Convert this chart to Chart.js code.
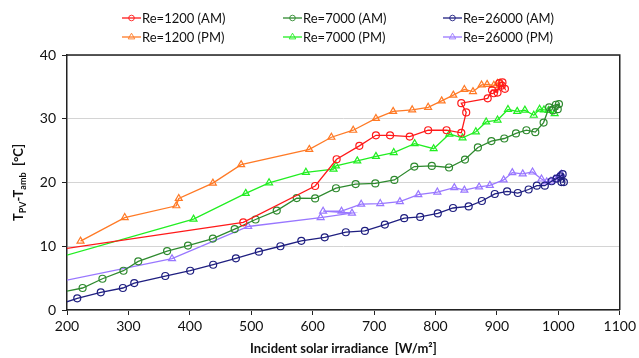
<!DOCTYPE html>
<html lang="en">
    <head>
        <meta charset="UTF-8">
        <title>PV temperature rise vs irradiance</title>
        <script src="https://cdn.jsdelivr.net/npm/chart.js@4/dist/chart.umd.min.js"></script>
        <style>
            body { margin: 0; background: #fff; }
            #chart { display: block; }
        </style>
    </head>
    <body>
        <canvas id="chart" width="639" height="358"></canvas>
        <script>
            // irradiance [W/m2] and temperature rise [°C] for each run
            const re1200amX = [150, 487, 604, 639, 676, 703, 726, 758, 788, 818, 842, 850, 842, 885, 892, 901, 904, 909, 913, 908, 895];
            const re1200amY = [8.96, 13.75, 19.45, 23.65, 25.75, 27.4, 27.4, 27.2, 28.2, 28.2, 27.8, 31.0, 32.45, 33.2, 34.5, 34.1, 35.6, 35.7, 34.7, 35.2, 34.0];

            const re1200pmX = [222, 294, 378, 382, 437.5, 483.5, 594.5, 630.5, 666, 703, 731, 762, 788, 810, 829, 847, 861, 875, 884, 895, 901, 905];
            const re1200pmY = [10.8, 14.5, 16.35, 17.5, 19.9, 22.8, 25.2, 27.1, 28.2, 30.05, 31.15, 31.4, 31.8, 32.8, 33.7, 34.6, 34.25, 35.3, 35.4, 35.25, 35.55, 35.6];

            const re7000amX = [180, 225.4, 257.7, 292, 316, 363, 397, 437.5, 473, 507, 541.5, 574, 604, 638, 670, 702, 733, 765.5, 794, 822, 848, 869, 891, 912, 931, 948, 962.5, 976, 985, 996, 1001, 999, 991];
            const re7000amY = [2.6, 3.45, 4.9, 6.16, 7.63, 9.25, 10.1, 11.2, 12.7, 14.2, 15.6, 17.55, 17.5, 19.1, 19.75, 19.85, 20.4, 22.5, 22.6, 22.35, 23.6, 25.5, 26.5, 26.9, 27.7, 28.2, 27.9, 29.4, 31.8, 32.2, 32.3, 31.5, 31.3];

            const re7000pmX = [150, 406, 491, 529, 589, 634, 638, 672.6, 703, 732, 766, 797, 822.6, 844, 865.7, 882.5, 901, 918, 933, 945.5, 960, 969.5, 976.5, 984, 994];
            const re7000pmY = [7.23, 14.26, 18.3, 19.95, 21.6, 22.1, 22.6, 23.4, 24.1, 24.7, 26.1, 25.3, 27.6, 27.0, 27.95, 29.5, 29.8, 31.45, 31.15, 31.35, 30.55, 31.5, 31.4, 31.3, 30.8];

            const re26000amX = [180, 216.7, 255, 291, 309.5, 360, 400.6, 438, 475, 512.4, 547.5, 581.5, 619.6, 654, 685, 717.5, 749, 775, 803.7, 828.5, 854, 875.5, 896.5, 916.6, 934, 951.6, 965, 978, 989, 997, 1003.5, 1007, 1009, 1005];
            const re26000amY = [0.66, 1.83, 2.77, 3.45, 4.23, 5.33, 6.16, 7.1, 8.1, 9.15, 10.0, 10.85, 11.4, 12.2, 12.4, 13.4, 14.4, 14.6, 15.15, 16.0, 16.25, 17.1, 18.2, 18.6, 18.35, 18.9, 19.5, 19.5, 20.2, 20.6, 20.96, 21.3, 20.06, 20.06];

            const re26000pmX = [150, 371, 495, 613, 664, 617, 647, 679, 710, 742, 772, 803, 830.6, 847, 871, 888.5, 911, 925, 942, 958, 972.6, 981, 988, 994, 1000, 1005];
            const re26000pmY = [3.72, 8.05, 13.1, 14.5, 15.2, 15.5, 15.5, 16.6, 16.7, 17.0, 18.1, 18.5, 19.2, 18.8, 19.3, 19.55, 20.4, 21.55, 21.35, 21.65, 20.55, 20.1, 20.2, 20.5, 20.9, 21.3];

            const xTicks = [200, 300, 400, 500, 600, 700, 800, 900, 1000, 1100];
            const yTicks = [0, 10, 20, 30, 40];

            function pairs(xs, ys) {
                return xs.map(function (x, i) { return { x: x, y: ys[i] }; });
            }

            function series(label, xs, ys, color, style) {
                return {
                    label: label,
                    data: pairs(xs, ys),
                    showLine: true,
                    borderColor: color,
                    backgroundColor: "transparent",
                    borderWidth: 1.3,
                    pointStyle: style,
                    pointRadius: style === "triangle" ? 4 : 3.5,
                    pointBorderWidth: 1.2,
                    pointBorderColor: color,
                    pointBackgroundColor: "transparent"
                };
            }

            const datasets = [
                series("Re=1200 (AM)", re1200amX, re1200amY, "#ff1a1a", "circle"),
                series("Re=7000 (AM)", re7000amX, re7000amY, "#2f8a2f", "circle"),
                series("Re=26000 (AM)", re26000amX, re26000amY, "#1f1f80", "circle"),
                series("Re=1200 (PM)", re1200pmX, re1200pmY, "#ff7a26", "triangle"),
                series("Re=7000 (PM)", re7000pmX, re7000pmY, "#22ee22", "triangle"),
                series("Re=26000 (PM)", re26000pmX, re26000pmY, "#9977ff", "triangle")
            ];

            const FONT = "Lato, 'Open Sans', sans-serif";

            // legend in a 3 x 2 grid, titles and the closing frame
            const decorations = {
                id: "decorations",
                afterDraw: function (chart) {
                    const ctx = chart.ctx;
                    const area = chart.chartArea;
                    ctx.save();

                    // top and right edges of the plot frame
                    ctx.strokeStyle = "#222";
                    ctx.lineWidth = 1.5;
                    ctx.beginPath();
                    ctx.moveTo(area.left, area.top);
                    ctx.lineTo(area.right, area.top);
                    ctx.lineTo(area.right, area.bottom);
                    ctx.stroke();

                    // legend
                    const cols = [122, 283, 443];
                    const rows = [18, 37];
                    ctx.font = "13px " + FONT;
                    ctx.textBaseline = "middle";
                    ctx.textAlign = "left";
                    chart.data.datasets.forEach(function (ds, i) {
                        const x0 = cols[i % 3];
                        const y0 = rows[Math.floor(i / 3)];
                        ctx.strokeStyle = ds.borderColor;
                        ctx.fillStyle = "rgba(0,0,0,0)";
                        ctx.lineWidth = 1.3;
                        ctx.beginPath();
                        ctx.moveTo(x0, y0);
                        ctx.lineTo(x0 + 19, y0);
                        ctx.stroke();
                        ctx.lineWidth = 0.9;
                        Chart.helpers.drawPoint(ctx, {
                            pointStyle: ds.pointStyle,
                            radius: ds.pointStyle === "triangle" ? 3.8 : 2.8,
                            borderWidth: 0.9,
                            rotation: 0
                        }, x0 + 9.5, y0);
                        ctx.fillStyle = "#111";
                        ctx.fillText(ds.label, x0 + 20, y0 + 1);
                    });

                    // x title
                    ctx.fillStyle = "#111";
                    ctx.textAlign = "center";
                    ctx.font = "bold 13px " + FONT;
                    ctx.fillText("Incident solar irradiance  [W/m\u00b2]", (area.left + area.right) / 2, 349);

                    // y title with subscripts
                    ctx.translate(19, (area.top + area.bottom) / 2);
                    ctx.rotate(-Math.PI / 2);
                    const parts = [
                        ["T", false], ["PV", true], ["-T", false], ["amb", true], ["  [\u00b0C]", false]
                    ];
                    const big = "bold 13px " + FONT;
                    const small = "bold 9px " + FONT;
                    let total = 0;
                    parts.forEach(function (p) {
                        ctx.font = p[1] ? small : big;
                        total += ctx.measureText(p[0]).width;
                    });
                    let x = -total / 2;
                    ctx.textAlign = "left";
                    parts.forEach(function (p) {
                        ctx.font = p[1] ? small : big;
                        ctx.fillText(p[0], x, p[1] ? 4 : 0);
                        x += ctx.measureText(p[0]).width;
                    });
                    ctx.restore();
                }
            };

            const ctx = document.getElementById("chart").getContext("2d");
            const chart = new Chart(ctx, {
                type: "scatter",
                data: { datasets: datasets },
                options: {
                    responsive: false,
                    animation: false,
                    devicePixelRatio: 1,
                    layout: { padding: { top: 55, right: 16, left: 0, bottom: 0 } },
                    plugins: {
                        legend: { display: false },
                        tooltip: { enabled: false }
                    },
                    scales: {
                        x: {
                            type: "linear",
                            min: xTicks[0],
                            max: xTicks[xTicks.length - 1],
                            afterBuildTicks: function (axis) {
                                axis.ticks = xTicks.map(function (v) { return { value: v }; });
                            },
                            afterFit: function (axis) { axis.height = 48; },
                            border: { display: true, color: "#222", width: 1.5 },
                            grid: { drawOnChartArea: false, tickLength: 5, color: "#222", tickColor: "#222" },
                            ticks: {
                                color: "#111", padding: 3, maxRotation: 0,
                                font: { family: FONT, size: 14 },
                                callback: function (v) { return String(v); }
                            }
                        },
                        y: {
                            min: yTicks[0],
                            max: yTicks[yTicks.length - 1],
                            afterBuildTicks: function (axis) {
                                axis.ticks = yTicks.map(function (v) { return { value: v }; });
                            },
                            afterFit: function (axis) { axis.width = 67; },
                            border: { display: true, color: "#222", width: 1.5 },
                            grid: { color: "#d4d4d4", lineWidth: 1, tickLength: 5, tickColor: "#222" },
                            ticks: {
                                color: "#111", padding: 6,
                                font: { family: FONT, size: 14 },
                                callback: function (v) { return String(v); }
                            }
                        }
                    }
                },
                plugins: [decorations]
            });
        </script>
    </body>
</html>
